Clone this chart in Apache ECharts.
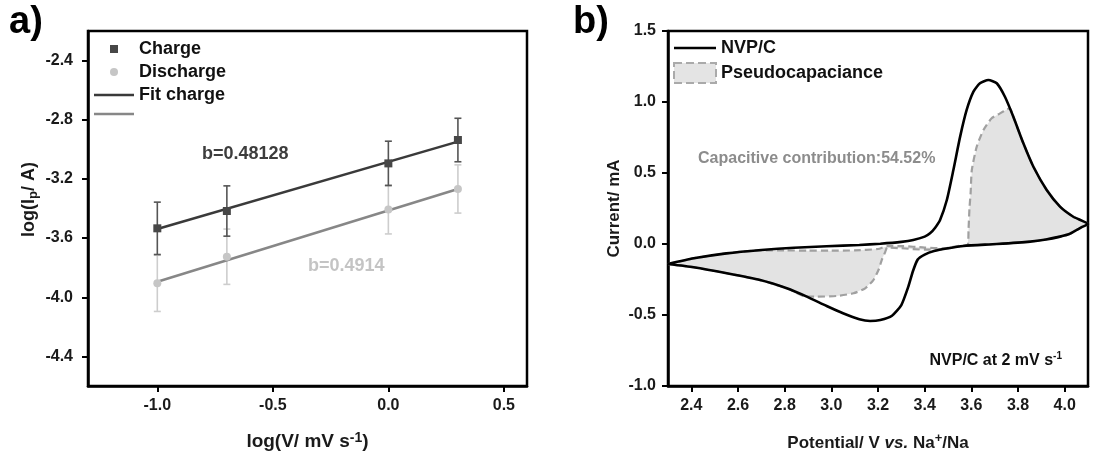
<!DOCTYPE html>
<html>
<head>
<meta charset="utf-8">
<script src="https://cdn.jsdelivr.net/npm/echarts@6.0.0/dist/echarts.min.js"></script>
<style>
html,body{margin:0;padding:0;background:#fff;}
#chart{width:1093px;height:459px;}
</style>
</head>
<body>
<div id="chart"></div>
<script>
// ---------- Panel a) data ----------
const scanRateLog = [-1.0, -0.699, 0.0, 0.301];
const chargeLogIp = [-3.534, -3.417, -3.095, -2.937];
const chargeErr = [0.177, 0.170, 0.150, 0.147];
const dischargeLogIp = [-3.906, -3.726, -3.406, -3.268];
const dischargeErr = [0.190, 0.187, 0.166, 0.163];
const fitX = [-1.0, 0.301];
const fitChargeY = [-3.539, -2.948];
const fitDischargeY = [-3.895, -3.268];
const leftXTicks = [-1.0, -0.5, 0.0, 0.5];
const leftYTicks = [-4.4, -4.0, -3.6, -3.2, -2.8, -2.4];

// ---------- Panel b) data (CV loop: anodic then cathodic) ----------
const nvpPotential = [
  2.30, 2.41, 2.55, 2.70, 2.84, 2.98, 3.12, 3.21, 3.30, 3.351, 3.40, 3.423, 3.445, 3.466, 3.495,
  3.523, 3.552, 3.580, 3.609, 3.637, 3.673, 3.709, 3.744, 3.780, 3.823, 3.866, 3.923, 3.980, 4.037, 4.10,
  4.075, 4.052, 4.02, 3.98, 3.92, 3.852, 3.709, 3.566, 3.50, 3.44, 3.40, 3.37, 3.35, 3.33, 3.30,
  3.26, 3.21, 3.166, 3.12, 3.05, 2.98, 2.895, 2.809, 2.695, 2.552, 2.41, 2.30
];
const nvpCurrent = [
  -0.141, -0.101, -0.066, -0.042, -0.026, -0.016, -0.007, 0.002, 0.015, 0.028, 0.052, 0.075, 0.115, 0.169, 0.310,
  0.521, 0.756, 0.944, 1.073, 1.132, 1.155, 1.132, 1.037, 0.896, 0.709, 0.544, 0.380, 0.263, 0.192, 0.140,
  0.120, 0.099, 0.070, 0.052, 0.032, 0.017, 0.000, -0.014, -0.030, -0.050, -0.075, -0.110, -0.190, -0.300, -0.430,
  -0.505, -0.535, -0.542, -0.530, -0.488, -0.437, -0.371, -0.312, -0.254, -0.206, -0.164, -0.141
];
const pseudoPotential = [
  2.30, 2.41, 2.55, 2.70, 2.80, 2.90, 3.00, 3.10, 3.20, 3.24, 3.30, 3.40, 3.48, 3.55, 3.585,
  3.588, 3.592, 3.597, 3.602, 3.623, 3.652, 3.687, 3.723, 3.750, 3.765, 3.780, 3.823, 3.866, 3.923, 3.980, 4.037, 4.10,
  4.075, 4.052, 4.02, 3.98, 3.92, 3.852, 3.709, 3.566, 3.48, 3.40, 3.30, 3.24,
  3.23, 3.216, 3.202, 3.18, 3.145, 3.095, 3.023, 2.938, 2.895, 2.809, 2.695, 2.552, 2.41, 2.30
];
const pseudoCurrent = [
  -0.141, -0.101, -0.066, -0.045, -0.045, -0.047, -0.047, -0.045, -0.035, -0.015, -0.015, -0.025, -0.030, -0.012, -0.005,
  0.100, 0.250, 0.360, 0.520, 0.685, 0.803, 0.885, 0.920, 0.945, 0.955, 0.896, 0.709, 0.544, 0.380, 0.263, 0.192, 0.140,
  0.120, 0.099, 0.070, 0.052, 0.032, 0.017, 0.000, -0.014, -0.035, -0.040, -0.030, -0.025,
  -0.060, -0.113, -0.183, -0.254, -0.312, -0.347, -0.366, -0.371, -0.371, -0.312, -0.254, -0.206, -0.164, -0.141
];
const rightXTicks = [2.4, 2.6, 2.8, 3.0, 3.2, 3.4, 3.6, 3.8, 4.0];

// ---------- chart ----------
const FONT = "'Liberation Sans', Arial, sans-serif";
const zip = (a, b) => a.map((v, i) => [v, b[i]]);

function errRender(params, api) {
  const x = api.value(0), lo = api.value(1), hi = api.value(2);
  const pLo = api.coord([x, lo]), pHi = api.coord([x, hi]);
  const hw = 3.5;
  const style = { stroke: api.visual('color'), lineWidth: 1.6 };
  return {
    type: 'group',
    children: [
      { type: 'line', shape: { x1: pLo[0], y1: pLo[1], x2: pHi[0], y2: pHi[1] }, style },
      { type: 'line', shape: { x1: pLo[0] - hw, y1: pLo[1], x2: pLo[0] + hw, y2: pLo[1] }, style },
      { type: 'line', shape: { x1: pHi[0] - hw, y1: pHi[1], x2: pHi[0] + hw, y2: pHi[1] }, style }
    ]
  };
}

const axisLine = { show: true, onZero: false, lineStyle: { color: '#000', width: 2.5 } };
const tickStyle = { color: '#000', width: 2 };
const labelBase = { fontSize: 16, fontWeight: 'bold', fontFamily: FONT, color: '#1a1a1a' };
const fmt1 = v => Number(v).toFixed(1);
function richName(size, supSize) {
  return {
    b: { fontSize: size, fontWeight: 'bold', fontFamily: FONT, color: '#1a1a1a', lineHeight: 22 },
    i: { fontSize: size, fontWeight: 'bold', fontStyle: 'italic', fontFamily: FONT, color: '#1a1a1a', lineHeight: 22 },
    sup: { fontSize: supSize, fontWeight: 'bold', fontFamily: FONT, color: '#1a1a1a', lineHeight: 12, verticalAlign: 'top' },
    sub: { fontSize: supSize, fontWeight: 'bold', fontFamily: FONT, color: '#1a1a1a', lineHeight: 12, verticalAlign: 'bottom' }
  };
}
const LINE10 = 'path://M0,0L0,0M0,10L0,10M0,3.75L40,3.75L40,6.25L0,6.25Z';
const LINE20 = 'path://M0,0L0,0M0,20L0,20M0,8.7L42,8.7L42,11.3L0,11.3Z';

const chart = echarts.init(document.getElementById('chart'), null, { renderer: 'canvas' });
chart.setOption({
  animation: false,
  backgroundColor: '#fff',
  grid: [
    { left: 88, top: 31, width: 439, height: 355, show: true, borderColor: '#000', borderWidth: 2.5, backgroundColor: 'transparent' },
    { left: 668, top: 31, width: 420, height: 355, show: true, borderColor: '#000', borderWidth: 2.5, backgroundColor: 'transparent' }
  ],
  xAxis: [
    {
      gridIndex: 0, type: 'value', min: -1.3, max: 0.6,
      axisLine, splitLine: { show: false },
      axisTick: { show: true, length: 6, lineStyle: tickStyle, customValues: leftXTicks },
      axisLabel: Object.assign({ margin: 12, formatter: fmt1, customValues: leftXTicks }, labelBase),
      name: '{b|log(V/ mV s}{sup|-1}{b|)}', nameLocation: 'middle', nameGap: 45,
      nameTextStyle: { rich: richName(19, 14) }
    },
    {
      gridIndex: 1, type: 'value', min: 2.3, max: 4.1,
      axisLine, splitLine: { show: false },
      axisTick: { show: true, length: 6, lineStyle: tickStyle, customValues: rightXTicks },
      axisLabel: Object.assign({ margin: 12, formatter: fmt1, customValues: rightXTicks }, labelBase),
      name: '{b|Potential/ V }{i|vs.}{b| Na}{sup|+}{b|/Na}', nameLocation: 'middle', nameGap: 46,
      nameTextStyle: { rich: richName(17, 13) }
    }
  ],
  yAxis: [
    {
      gridIndex: 0, type: 'value', min: -4.6, max: -2.2,
      axisLine, splitLine: { show: false },
      axisTick: { show: true, length: 6, lineStyle: tickStyle, customValues: leftYTicks },
      axisLabel: Object.assign({ margin: 15, formatter: fmt1, customValues: leftYTicks }, labelBase),
      name: '{b|log(I}{sub|p}{b|/ A)}', nameLocation: 'middle', nameGap: 48, nameRotate: 90,
      nameTextStyle: { rich: richName(18, 13), padding: [0, 0, 0, 18] }
    },
    {
      gridIndex: 1, type: 'value', min: -1.0, max: 1.5, interval: 0.5,
      axisLine, splitLine: { show: false },
      axisTick: { show: true, length: 6, lineStyle: tickStyle },
      axisLabel: Object.assign({ margin: 12, formatter: fmt1 }, labelBase),
      name: '{b|Current/ mA}', nameLocation: 'middle', nameGap: 43, nameRotate: 90,
      nameTextStyle: { rich: richName(17, 13) }
    }
  ],
  legend: [
    {
      left: 94, top: 40, orient: 'vertical', padding: 0, itemGap: 5, itemWidth: 40, itemHeight: 10,
      selectedMode: false,
      data: [
        { name: 'Charge', icon: 'path://M0,0L0,0M40,10L40,10M16,1L24,1L24,9L16,9Z' },
        { name: 'Discharge', icon: 'path://M0,0L0,0M40,10L40,10M24,5A4,4,0,1,1,16,5A4,4,0,1,1,24,5Z' },
        { name: 'Fit charge', icon: LINE10 },
        { name: 'Fit discharge', icon: LINE10 }
      ],
      formatter: n => (n === 'Fit discharge' ? '' : n),
      textStyle: { fontSize: 18, fontWeight: 'bold', fontFamily: FONT, color: '#111', lineHeight: 18 }
    },
    {
      left: 673, top: 38, orient: 'vertical', padding: 0, itemGap: 4, itemWidth: 42, itemHeight: 20,
      selectedMode: false,
      data: [
        { name: 'NVP/C', icon: LINE20 },
        { name: 'Pseudocapaciance', icon: 'rect',
          itemStyle: { color: '#e4e4e4', borderColor: '#aaaaaa', borderWidth: 2, borderType: 'dashed' } }
      ],
      textStyle: { fontSize: 18, fontWeight: 'bold', fontFamily: FONT, color: '#111', lineHeight: 20 }
    }
  ],
  series: [
    {
      name: 'Discharge error', type: 'custom', xAxisIndex: 0, yAxisIndex: 0,
      data: scanRateLog.map((x, i) => [x, dischargeLogIp[i] - dischargeErr[i], dischargeLogIp[i] + dischargeErr[i]]),
      encode: { x: 0, y: [1, 2] }, itemStyle: { color: '#cdcdcd' }, renderItem: errRender, z: 2
    },
    {
      name: 'Charge error', type: 'custom', xAxisIndex: 0, yAxisIndex: 0,
      data: scanRateLog.map((x, i) => [x, chargeLogIp[i] - chargeErr[i], chargeLogIp[i] + chargeErr[i]]),
      encode: { x: 0, y: [1, 2] }, itemStyle: { color: '#555' }, renderItem: errRender, z: 3
    },
    {
      name: 'Fit discharge', type: 'line', xAxisIndex: 0, yAxisIndex: 0, symbol: 'none',
      data: zip(fitX, fitDischargeY), lineStyle: { color: '#878787', width: 2.5 }, itemStyle: { color: '#878787' }, z: 4
    },
    {
      name: 'Fit charge', type: 'line', xAxisIndex: 0, yAxisIndex: 0, symbol: 'none',
      data: zip(fitX, fitChargeY), lineStyle: { color: '#3a3a3a', width: 2.5 }, itemStyle: { color: '#3a3a3a' }, z: 4
    },
    {
      name: 'Discharge', type: 'scatter', xAxisIndex: 0, yAxisIndex: 0, symbol: 'circle', symbolSize: 8,
      data: zip(scanRateLog, dischargeLogIp), itemStyle: { color: '#c6c6c6', opacity: 1 }, z: 5
    },
    {
      name: 'Charge', type: 'scatter', xAxisIndex: 0, yAxisIndex: 0, symbol: 'rect', symbolSize: 8,
      data: zip(scanRateLog, chargeLogIp), itemStyle: { color: '#474747', opacity: 1 }, z: 5
    },
    {
      name: 'Pseudocapaciance', type: 'custom', xAxisIndex: 1, yAxisIndex: 1,
      data: zip(pseudoPotential, pseudoCurrent), encode: { x: 0, y: 1 },
      itemStyle: { color: '#e3e3e3' }, z: 2,
      renderItem: function (params, api) {
        if (params.dataIndex !== 0) return null;
        const pts = pseudoPotential.map((v, i) => api.coord([v, pseudoCurrent[i]]));
        return { type: 'polygon', shape: { points: pts }, style: { fill: '#e3e3e3' } };
      }
    },
    {
      name: 'Pseudocapaciance boundary', type: 'line', xAxisIndex: 1, yAxisIndex: 1, symbol: 'none', smooth: 0.2,
      data: zip(pseudoPotential, pseudoCurrent),
      lineStyle: { color: '#a0a0a0', width: 2.2, type: [7, 4] }, z: 3
    },
    {
      name: 'NVP/C', type: 'line', xAxisIndex: 1, yAxisIndex: 1, symbol: 'none', smooth: 0.2,
      data: zip(nvpPotential, nvpCurrent),
      lineStyle: { color: '#000', width: 2.6 }, itemStyle: { color: '#000' }, z: 4
    }
  ],
  graphic: [
    { type: 'text', left: 9, top: 4, style: { text: 'a)', font: "bold 38px 'Liberation Sans', Arial, sans-serif", fill: '#000' } },
    { type: 'text', left: 573, top: 4, style: { text: 'b)', font: "bold 38px 'Liberation Sans', Arial, sans-serif", fill: '#000' } },
    { type: 'text', left: 202, top: 145, style: { text: 'b=0.48128', font: "bold 18px 'Liberation Sans', Arial, sans-serif", fill: '#3d3d3d' } },
    { type: 'text', left: 308, top: 257, style: { text: 'b=0.4914', font: "bold 18px 'Liberation Sans', Arial, sans-serif", fill: '#c4c4c4' } },
    { type: 'text', left: 698, top: 151, style: { text: 'Capacitive contribution:54.52%', font: "bold 16px 'Liberation Sans', Arial, sans-serif", fill: '#8c8c8c' } },
    {
      type: 'text', right: 31, top: 351,
      style: {
        text: '{t|NVP/C at 2 mV s}{s|-1}',
        rich: {
          t: { fontSize: 16, fontWeight: 'bold', fontFamily: FONT, fill: '#111', lineHeight: 20 },
          s: { fontSize: 10, fontWeight: 'bold', fontFamily: FONT, fill: '#111', lineHeight: 12, verticalAlign: 'top' }
        }
      }
    }
  ]
});
</script>
</body>
</html>
